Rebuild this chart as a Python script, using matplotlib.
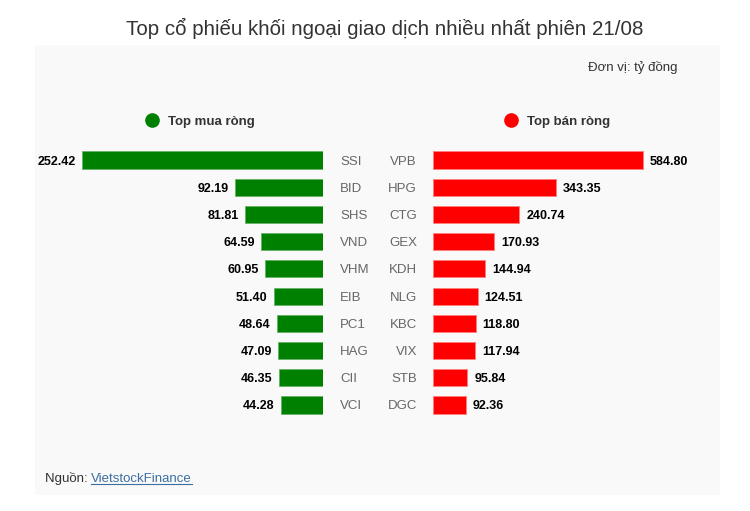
import matplotlib.pyplot as plt
from matplotlib.patches import Rectangle

plt.rcParams['font.family'] = ['Liberation Sans', 'DejaVu Sans']

buy_tickers = ['SSI', 'BID', 'SHS', 'VND', 'VHM', 'EIB', 'PC1', 'HAG', 'CII', 'VCI']
buy_values = [252.42, 92.19, 81.81, 64.59, 60.95, 51.40, 48.64, 47.09, 46.35, 44.28]
sell_tickers = ['VPB', 'HPG', 'CTG', 'GEX', 'KDH', 'NLG', 'KBC', 'VIX', 'STB', 'DGC']
sell_values = [584.80, 343.35, 240.74, 170.93, 144.94, 124.51, 118.80, 117.94, 95.84, 92.36]

W, H = 750, 511
fig = plt.figure(figsize=(W / 100, H / 100), dpi=100)
fig.patch.set_facecolor('white')

def fx(px):
    return px / W

def fy(py):
    return 1 - py / H

# light panel behind the chart
fig.add_artist(Rectangle((fx(35), fy(495)), fx(720) - fx(35), fy(45) - fy(495),
                         transform=fig.transFigure, facecolor='#f9f9f9',
                         edgecolor='none', zorder=0))

fig.text(fx(385), fy(28), 'Top cổ phiếu khối ngoại giao dịch nhiều nhất phiên 21/08',
         ha='center', va='center', fontsize=14.8, color='#333333')
fig.text(fx(677), fy(67), 'Đơn vị: tỷ đồng', ha='right', va='center',
         fontsize=9.5, color='#333333')

# bar axes
top_px, bot_px = 146.4, 418.6
ax_l = fig.add_axes([fx(35), fy(bot_px), fx(323) - fx(35), (bot_px - top_px) / H])
ax_r = fig.add_axes([fx(433), fy(bot_px), fx(720) - fx(433), (bot_px - top_px) / H])

rows = list(range(len(buy_values)))
bh = 0.63
ax_l.barh(rows, buy_values, height=bh, color='#008000', edgecolor='#66b266', linewidth=0.6)
ax_r.barh(rows, sell_values, height=bh, color='#ff0000', edgecolor='#ff7f7f', linewidth=0.6)

ax_l.set_xlim((323 - 35) / 0.955, 0)
ax_r.set_xlim(0, (720 - 433) / 0.359)
for ax in (ax_l, ax_r):
    ax.set_ylim(len(rows) - 0.5, -0.5)
    ax.axis('off')

for i in rows:
    ax_l.annotate(f'{buy_values[i]:.2f}', (buy_values[i], i), xytext=(-4.5, 0),
                  textcoords='offset points', ha='right', va='center_baseline',
                  fontsize=9, fontweight='bold', color='#000000')
    ax_l.annotate(buy_tickers[i], (0, i), xytext=(12.3, 0), textcoords='offset points',
                  ha='left', va='center_baseline', fontsize=9.5, color='#666666',
                  annotation_clip=False)
    ax_r.annotate(f'{sell_values[i]:.2f}', (sell_values[i], i), xytext=(5, 0),
                  textcoords='offset points', ha='left', va='center_baseline',
                  fontsize=9, fontweight='bold', color='#000000')
    ax_r.annotate(sell_tickers[i], (0, i), xytext=(-11.5, 0), textcoords='offset points',
                  ha='right', va='center_baseline', fontsize=9.5, color='#666666',
                  annotation_clip=False)

# legend markers
ov = fig.add_axes([0, 0, 1, 1], facecolor='none')
ov.set_xlim(0, W)
ov.set_ylim(H, 0)
ov.axis('off')
ov.plot([152], [120], 'o', color='#008000', markersize=9.5)
ov.plot([511], [120], 'o', color='#ff0000', markersize=9.5)
ov.text(168, 120, 'Top mua ròng', ha='left', va='center_baseline', fontsize=9.5,
        fontweight='bold', color='#333333')
ov.text(527, 120, 'Top bán ròng', ha='left', va='center_baseline', fontsize=9.5,
        fontweight='bold', color='#333333')

# source line
src = ov.text(45, 477, 'Nguồn: ', ha='left', va='center_baseline', fontsize=9.5, color='#333333')
fig.canvas.draw()
bb = src.get_window_extent()
link = fig.text(bb.x1 / W, fy(477), 'VietstockFinance', ha='left', va='center_baseline',
                fontsize=9.5, color='#3b6fa0')
fig.canvas.draw()
lb = link.get_window_extent()
fig.add_artist(plt.Line2D([lb.x0 / W, lb.x1 / W], [(lb.y0 + 1) / H, (lb.y0 + 1) / H],
                          transform=fig.transFigure, color='#3b6fa0', linewidth=0.8))

fig.savefig('out.png', dpi=100, facecolor=fig.get_facecolor())
